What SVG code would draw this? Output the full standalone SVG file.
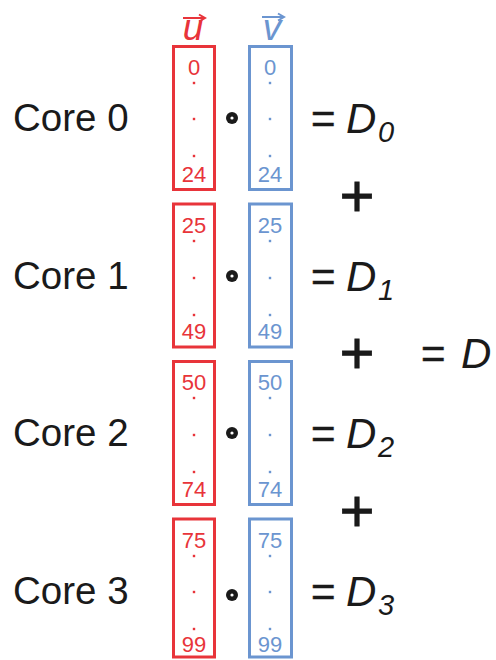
<svg xmlns="http://www.w3.org/2000/svg" width="496" height="660" viewBox="0 0 496 660">
<style>
.core{font-family:"Liberation Sans",Arial,sans-serif;font-size:38.5px;fill:#1a1a1a}
.num{font-family:"Liberation Sans",Arial,sans-serif;font-size:22px;text-anchor:middle}
.r{fill:#e8343a}
.b{fill:#6b95d0}
.boxr{fill:none;stroke:#e8343a;stroke-width:3}
.boxb{fill:none;stroke:#6b95d0;stroke-width:3}
.eq{font-family:"Liberation Sans",Arial,sans-serif;font-size:42px;fill:#1a1a1a;stroke:#1a1a1a;stroke-width:0.5}
.D{font-family:"Liberation Sans",Arial,sans-serif;font-size:42px;font-style:italic;fill:#1a1a1a}
.sub{font-family:"Liberation Sans",Arial,sans-serif;font-size:29px;font-style:italic;fill:#1a1a1a}
.plus{font-family:"Liberation Sans",Arial,sans-serif;font-size:60px;fill:#1a1a1a;stroke:#1a1a1a;stroke-width:0.8;text-anchor:middle}
.vec{font-family:"Liberation Sans",Arial,sans-serif;font-size:37px;font-style:italic;text-anchor:middle}
</style>
<defs>
<g id="odot"><circle r="6" fill="#1a1a1a"/><circle r="1.6" fill="#fff"/></g>
<g id="dotsr"><rect x="-1.2" y="-1.2" width="2.4" height="2.4" fill="#e8343a"/></g>
<g id="dotsb"><rect x="-1.2" y="-1.2" width="2.4" height="2.4" fill="#6b95d0"/></g>
</defs>
<g id="vectors">
<text class="vec r" x="193" y="40">u</text>
<path d="M183 18H204M199 14.5L205 18L199 21.5" fill="none" stroke="#e8343a" stroke-width="2"/>
<text class="vec b" x="272" y="40">v</text>
<path d="M262 17H283M278 13.5L284 17L278 20.5" fill="none" stroke="#6b95d0" stroke-width="2"/>
</g>
<g id="core0">
<text class="core" x="13" y="131">Core 0</text>
<rect class="boxr" x="173.5" y="46.5" width="41" height="143"/>
<text class="num r" x="194" y="75">0</text>
<use href="#dotsr" x="194" y="83"/><use href="#dotsr" x="194" y="119"/><use href="#dotsr" x="194" y="156"/>
<text class="num r" x="194" y="182">24</text>
<use href="#odot" x="232" y="118"/>
<rect class="boxb" x="249.5" y="46.5" width="42" height="143"/>
<text class="num b" x="270" y="75">0</text>
<use href="#dotsb" x="270" y="83"/><use href="#dotsb" x="270" y="119"/><use href="#dotsb" x="270" y="156"/>
<text class="num b" x="270" y="182">24</text>
<text class="eq" x="311" y="133">=</text>
<text class="D" x="346" y="133">D</text><text class="sub" x="378" y="142">0</text>
</g>
<g id="core1">
<text class="core" x="13" y="289">Core 1</text>
<rect class="boxr" x="173.5" y="204" width="41" height="143"/>
<text class="num r" x="194" y="233">25</text>
<use href="#dotsr" x="194" y="241"/><use href="#dotsr" x="194" y="278"/><use href="#dotsr" x="194" y="315"/>
<text class="num r" x="194" y="339">49</text>
<use href="#odot" x="232" y="276"/>
<rect class="boxb" x="249.5" y="204" width="42" height="143"/>
<text class="num b" x="270" y="233">25</text>
<use href="#dotsb" x="270" y="241"/><use href="#dotsb" x="270" y="278"/><use href="#dotsb" x="270" y="315"/>
<text class="num b" x="270" y="339">49</text>
<text class="eq" x="311" y="290.5">=</text>
<text class="D" x="346" y="290.5">D</text><text class="sub" x="378" y="299.5">1</text>
</g>
<g id="core2">
<text class="core" x="13" y="446">Core 2</text>
<rect class="boxr" x="173.5" y="361.5" width="41" height="143"/>
<text class="num r" x="194" y="390">50</text>
<use href="#dotsr" x="194" y="398"/><use href="#dotsr" x="194" y="435"/><use href="#dotsr" x="194" y="472"/>
<text class="num r" x="194" y="497">74</text>
<use href="#odot" x="232" y="433"/>
<rect class="boxb" x="249.5" y="361.5" width="42" height="143"/>
<text class="num b" x="270" y="390">50</text>
<use href="#dotsb" x="270" y="398"/><use href="#dotsb" x="270" y="435"/><use href="#dotsb" x="270" y="472"/>
<text class="num b" x="270" y="497">74</text>
<text class="eq" x="311" y="448">=</text>
<text class="D" x="346" y="448">D</text><text class="sub" x="378" y="457">2</text>
</g>
<g id="core3">
<text class="core" x="13" y="604">Core 3</text>
<rect class="boxr" x="173.5" y="519" width="41" height="138"/>
<text class="num r" x="194" y="548">75</text>
<use href="#dotsr" x="194" y="556"/><use href="#dotsr" x="194" y="592"/><use href="#dotsr" x="194" y="629"/>
<text class="num r" x="194" y="652">99</text>
<use href="#odot" x="232" y="595"/>
<rect class="boxb" x="249.5" y="519" width="42" height="138"/>
<text class="num b" x="270" y="548">75</text>
<use href="#dotsb" x="270" y="556"/><use href="#dotsb" x="270" y="592"/><use href="#dotsb" x="270" y="629"/>
<text class="num b" x="270" y="652">99</text>
<text class="eq" x="311" y="605.5">=</text>
<text class="D" x="346" y="605.5">D</text><text class="sub" x="378" y="614.5">3</text>
</g>
<g id="sum">
<text class="plus" x="357" y="216">+</text>
<text class="plus" x="357" y="373">+</text>
<text class="plus" x="357" y="531">+</text>
<text class="eq" x="421" y="368">=</text>
<text class="D" x="461" y="368">D</text>
</g>
</svg>
